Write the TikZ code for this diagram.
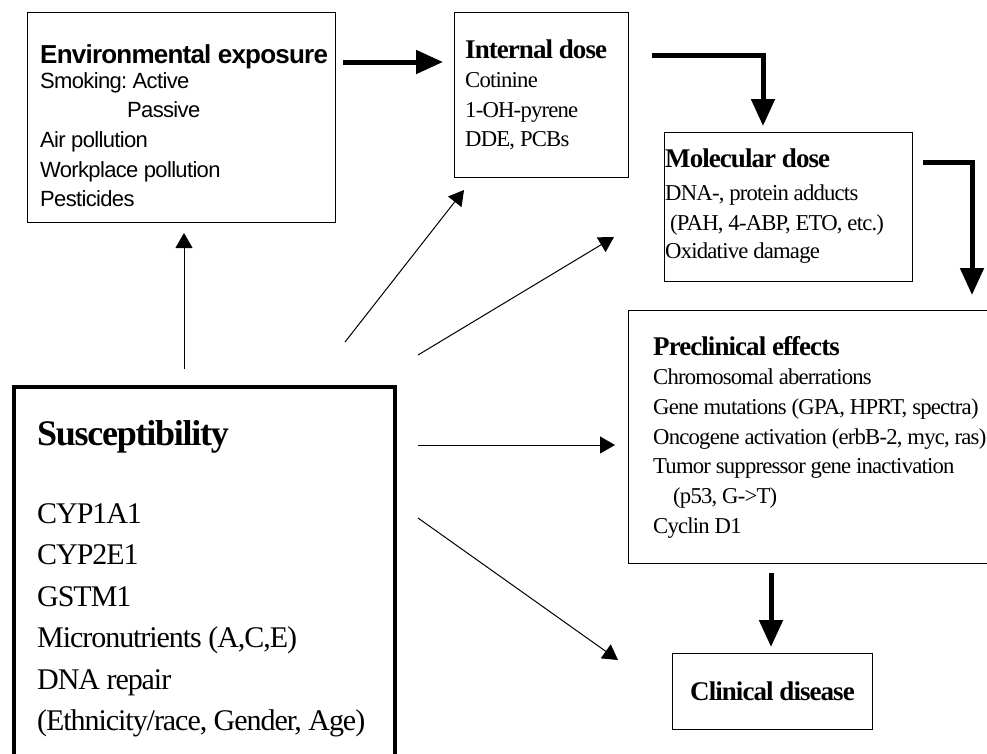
\documentclass[tikz,border=0pt]{standalone}
\usepackage{fontspec}
\usetikzlibrary{arrows.meta}
\newfontfamily\serifx[LetterSpace=-3.5]{Liberation Serif}
\newfontfamily\sansx[LetterSpace=-3]{Liberation Sans}
\frenchspacing
\tikzset{
  box/.style={draw,line width=1.2,anchor=north west,inner sep=0},
  fat/.style={line width=5,-{Triangle[length=27pt,width=23pt]}},
  feed/.style={line width=1,-{Triangle[length=15pt,width=17pt]}},
  txt/.style={anchor=base west,inner sep=0,font=\serifx\fontsize{22.7}{27}\selectfont},
  ttl/.style={anchor=base west,inner sep=0,font=\serifx\bfseries\fontsize{27}{32}\selectfont},
  btxt/.style={anchor=base west,inner sep=0,font=\serifx\fontsize{30}{36}\selectfont},
  bttl/.style={anchor=base west,inner sep=0,font=\serifx\bfseries\fontsize{36}{42}\selectfont},
  stxt/.style={anchor=base west,inner sep=0,font=\sansx\fontsize{22}{26}\selectfont},
  sttl/.style={anchor=base west,inner sep=0,font=\sansx\bfseries\fontsize{26}{30}\selectfont}
}
\begin{document}
\begin{tikzpicture}[x=1pt,y=-1pt]
\useasboundingbox (0,0) rectangle (987,753);

% boxes
\node[box,minimum width=308,minimum height=210] (env) at (27,12) {};
\node[box,minimum width=174,minimum height=165] (int) at (454,12) {};
\node[box,minimum width=248,minimum height=149] (mol) at (664,132) {};
\node[box,minimum width=380,minimum height=253] (pre) at (628,310) {};
\node[box,line width=4,minimum width=381,minimum height=420] (sus) at (12,385) {};
\node[box,minimum width=200,minimum height=76] (cli) at (672,653) {};

% texts
\node[sttl] (env0) at (40,63) {Environmental exposure};
\foreach \t/\x/\y [count=\i] in {Smoking: Active/40/88,Passive/127/117,Air pollution/40/147,Workplace pollution/40/177,Pesticides/40/206}
{
    \node[stxt] (env\i) at (\x,\y) {\t};
}

\node[ttl] (int0) at (465,58) {Internal dose};
\foreach \t [count=\i] in {Cotinine,1-OH-pyrene,{DDE, PCBs}}
{
    \node[txt] (int\i) at (465,58+29.6*\i) {\t};
}

\node[ttl] (mol0) at (665,167) {Molecular dose};
\foreach \t/\y [count=\i] in {{DNA-, protein adducts}/200,{\hspace{5pt}(PAH, 4-ABP, ETO, etc.)}/230,Oxidative damage/258}
{
    \node[txt] (mol\i) at (665,\y) {\t};
}

\node[ttl] (pre0) at (653,355) {Preclinical effects};
\foreach \t [count=\i] in {Chromosomal aberrations,{Gene mutations (GPA, HPRT, spectra)},{Oncogene activation (erbB-2, myc, ras)},Tumor suppressor gene inactivation,{\hspace{20pt}(p53, G->T)},Cyclin D1}
{
    \node[txt] (pre\i) at (653,355+29.7*\i) {\t};
}

\node[bttl] (sus0) at (37,445) {Susceptibility};
\foreach \t [count=\i] in {CYP1A1,CYP2E1,GSTM1,{Micronutrients (A,C,E)},DNA repair,{(Ethnicity/race, Gender, Age)}}
{
    \node[btxt] (sus\i) at (37,482+41.4*\i) {\t};
}

\node[ttl] (cli0) at (690,700) {Clinical disease};

% arrow ends
\coordinate (envout) at (343,62);
\coordinate (intin) at (443,62);
\coordinate (intout) at (652,55);
\coordinate (molin) at (763,126);
\coordinate (molout) at (923,162);
\coordinate (prein) at (972,295);
\coordinate (preout) at (771,573);
\coordinate (cliin) at (771,647);
\coordinate (s1) at (184,369);
\coordinate (t1) at (184,233);
\coordinate (s2) at (345,342);
\coordinate (t2) at (464,190);
\coordinate (s3) at (418,355);
\coordinate (t3) at (614,237);
\coordinate (s4) at (418,445);
\coordinate (t4) at (615,445);
\coordinate (s5) at (418,518);
\coordinate (t5) at (618,660);

\draw[fat] (envout) -- (intin);
\draw[fat] (intout) -| (molin);
\draw[fat] (molout) -| (prein);
\draw[fat] (preout) -- (cliin);

\foreach \n in {1,...,5}
{
    \draw[feed] (s\n) -- (t\n);
}
\end{tikzpicture}
\end{document}
